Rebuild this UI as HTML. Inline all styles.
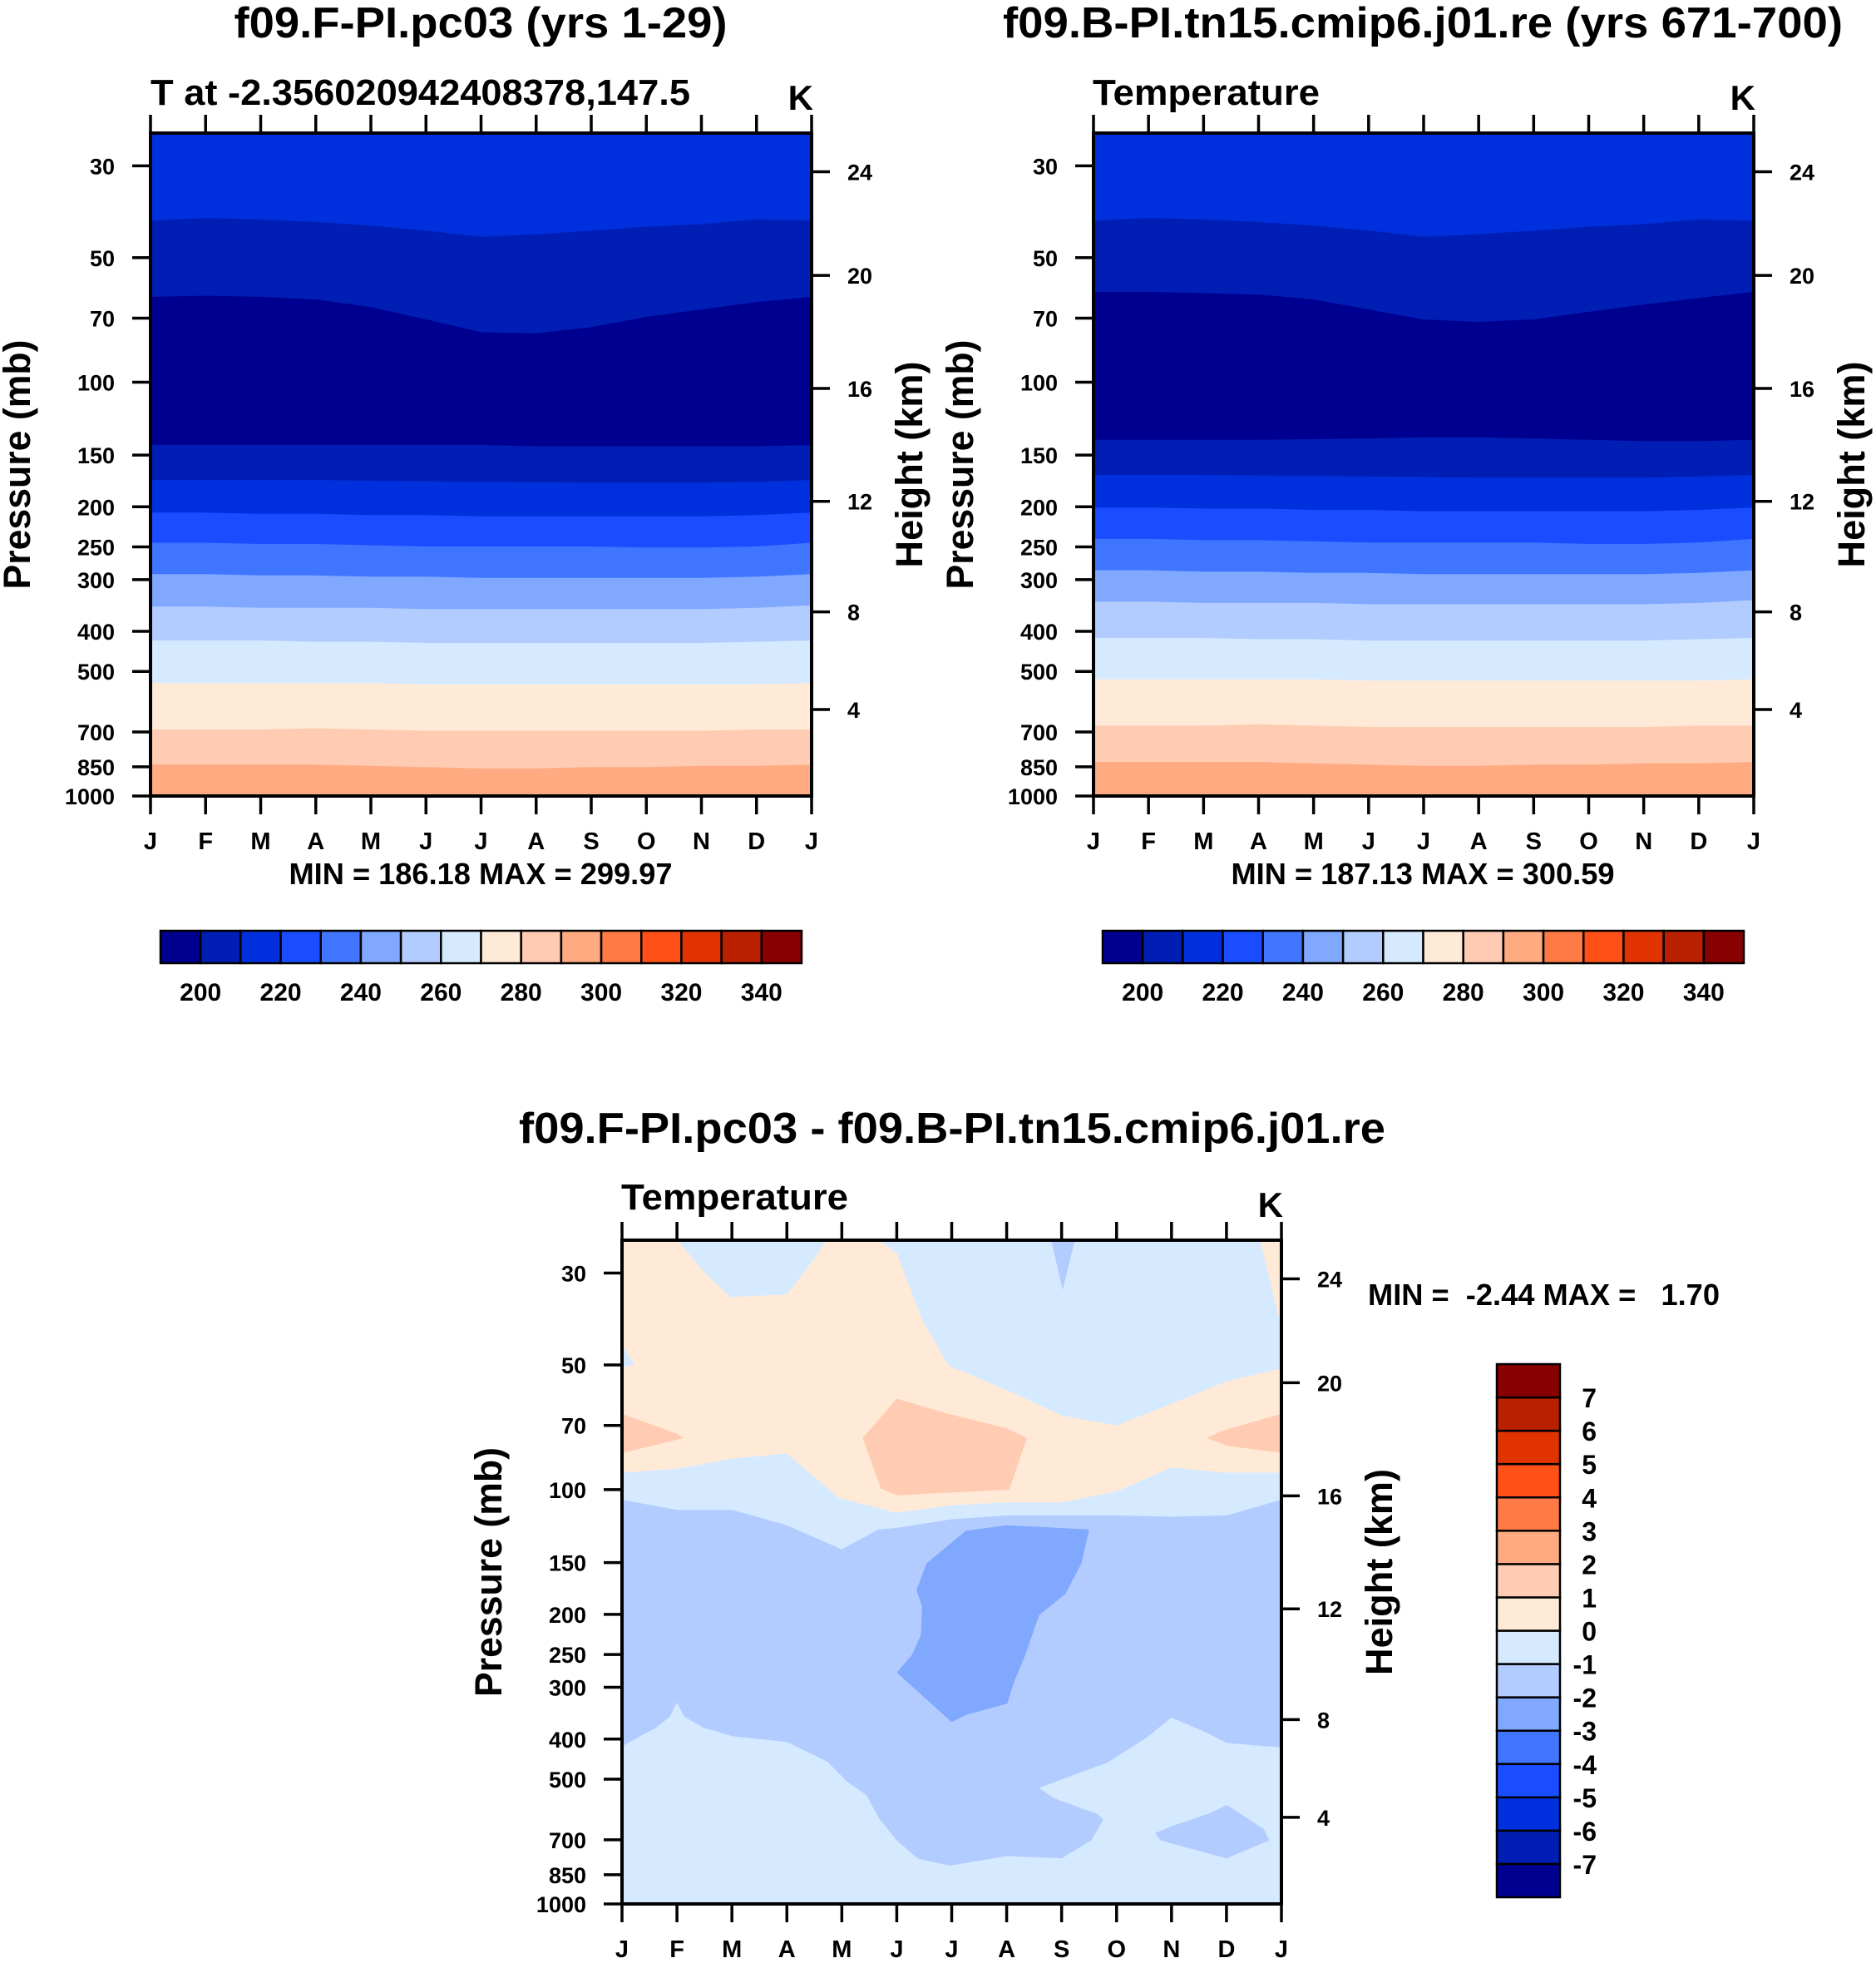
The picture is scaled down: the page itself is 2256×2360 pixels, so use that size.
<!DOCTYPE html>
<html><head><meta charset="utf-8">
<style>
html,body{margin:0;padding:0;background:#fff;}
svg{display:block;}
text{font-family:"Liberation Sans",sans-serif;font-weight:bold;fill:#000;white-space:pre;}
</style></head>
<body>
<svg id="chart" xmlns="http://www.w3.org/2000/svg" width="2256" height="2360" viewBox="0 0 2256 2360"></svg>
<script>
// ---------- DATA ----------
const months = ["J","F","M","A","M","J","J","A","S","O","N","D","J"];
const pressureTicks = [30,50,70,100,150,200,250,300,400,500,700,850,1000];
const heightTickLabels = [4,8,12,16,20,24];
const heightTickPressures = [618,359,194,103.5,55.2,31];
const cbLabelsTemp = [200,220,240,260,280,300,320,340];
const cbLabelsDiff = [7,6,5,4,3,2,1,0,-1,-2,-3,-4,-5,-6,-7];
const palette = ["#000090","#001eb4","#0030dd","#1a4dff","#4075ff","#80a8ff","#b3ccff","#d6eaff","#ffead8","#ffccb3","#ffaa80","#ff7a45","#ff5018","#e03300","#b82000","#880000"];
const bandColors = [2,1,0,1,2,3,4,5,6,7,8,9,10];
const p1B1 = [40.7,40.1,40.4,41.0,41.8,43.0,44.5,43.9,43.0,42.1,41.5,40.4,40.7];
const p1B2 = [62.2,61.8,62.2,63.1,65.8,70.5,75.7,76.2,73.6,69.5,66.7,64.0,62.2];
const p1B3 = [141.8,141.8,141.8,141.8,141.8,141.8,141.8,142.8,142.8,142.8,142.8,142.8,141.8];
const p1B4 = [172.3,172.3,172.3,172.3,173,173.5,174,174.5,174.7,174.7,174.7,174,172.3];
const p1B5 = [206.6,206.6,208,208,209.5,209.5,211,211,211,211,211,209.5,206.6];
const p1B6 = [244.3,244.3,246,246,247.7,249.4,249.4,249.4,249.4,251,251,249.4,244.3];
const p1B7 = [290.9,290.9,293,293,295,295,297.1,297.1,297.1,297.1,297.1,295,290.9];
const p1B8 = [348.6,348.6,351,351,351,353.5,353.5,353.5,353.5,353.5,353.5,351,346];
const p1B9 = [420.9,420.9,420.9,424,424,426.8,426.8,426.8,426.8,426.8,426.8,424,420.9];
const p1B10 = [533.7,533.7,533.7,533.7,533.7,537.4,537.4,537.4,537.4,537.4,537.4,537.4,533.7];
const p1B11 = [690.5,690.5,690.5,685.7,690.5,695.3,695.3,695.3,695.3,695.3,695.3,690.5,690.5];
const p1B12 = [839.9,839.9,839.9,839.9,845.7,851.6,857.8,857.8,851.6,851.6,845.7,845.7,839.9];
const p2B1 = [40.7,40.1,40.4,41.0,41.8,43.0,44.5,43.9,43.0,42.1,41.5,40.4,40.7];
const p2B2 = [60.5,60.5,60.9,61.4,63.1,66.7,70.5,71.5,70.5,67.6,64.9,62.6,60.5];
const p2B3 = [137.8,137.8,137.8,137.8,137.3,136.8,135.9,135.9,136.8,137.8,138.8,138.8,137.8];
const p2B4 = [167.6,167.6,167.6,168,168.5,169,169.5,170,170,170,170,169,167.6];
const p2B5 = [200.9,200.9,202,202,203.5,203.5,205,205,205,205,205,203.5,200.9];
const p2B6 = [239.2,239.2,240.8,240.8,242.5,244,244,244,244,246,246,244,239.2];
const p2B7 = [284.8,284.8,286.8,286.8,289,289,291,291,291,291,291,289,284.8];
const p2B8 = [339,339,341.5,341.5,341.5,344,344,344,344,344,344,341.5,336];
const p2B9 = [415,415,415,418,418,421,421,421,421,421,421,418,415];
const p2B10 = [522.5,522.5,522.5,522.5,522.5,526,526,526,526,526,526,526,522.5];
const p2B11 = [676,676,676,671,676,681,681,681,681,681,681,676,676];
const p2B12 = [827.6,827.6,827.6,827.6,833.5,839.5,845.5,845.5,839.5,839.5,833.5,833.5,827.6];
const diffPos01 = [[0,25],[1,25],[1.49,29.8],[1.97,34.3],[3,33.8],[3.44,28.4],[3.73,25],[4.67,25],[5,26.9],[5.46,38.9],[5.94,50.2],[7,57.5],[8,66.2],[9,70],[10,62.1],[11,54.8],[12,51],[12,91],[11,91],[10,88.5],[9,101],[8,107.4],[7,107.4],[5.97,109.2],[5,113.7],[3.95,104.8],[3,81.8],[2,84.2],[1,89.1],[0,91]];
const diffPos01b = [[11.61,25],[12,25],[12,40.7]];
const diffNegLeft = [[0,44.8],[0.23,49.9],[0,50.7]];
const diffNotchS = [[7.81,25],[8.24,25],[8.02,33]];
const diffPos12a = [[5,60.3],[4.38,75],[4.71,99.3],[5,103.2],[7.05,100],[7.37,75],[7,71.1],[5.94,65.6]];
const diffPos12b = [[0,65.6],[1,73.3],[1.13,75],[0,81.6]];
const diffPos12c = [[12,65.6],[11,71.6],[10.63,75],[11.03,78.5],[12,81.6]];
const diffNeg12 = [[0,105.8],[1,111.9],[2,111.9],[3,121.9],[4,139.3],[4.67,124.8],[5,123.7],[5.97,118],[7,115.4],[9,115.4],[10,116.2],[11,115.4],[12,105.8],[12,419.2],[11,408.8],[10.63,385.3],[10,355],[9.51,399.9],[8.83,456],[7.59,524.8],[7.85,555.2],[8.65,606.3],[8.76,625.5],[8.54,702.4],[8,776.2],[7,766.6],[5.97,808.4],[5.39,778.6],[5,702.4],[4.67,619.6],[4.45,546.9],[4.09,505.6],[3.73,453.2],[3,406.3],[2,393.6],[1.49,375.7],[1.13,353],[1,326.3],[0.87,353],[0.62,375.7],[0.33,393.6],[0,416.6]];
const diffNeg12b = [[9.7,674.5],[9.8,702.4],[11,776.2],[11.78,702.4],[11.68,659.7],[11,576.6],[10.74,600.6],[10,649.4]];
const diffNeg23 = [[6.26,125.6],[7,121.9],[8.5,124.8],[8.36,150.7],[8.07,178.4],[7.59,200.9],[7.34,250.1],[7.13,292.3],[7.01,328.3],[6.26,349.6],[6,364],[5,276.4],[5.28,250.1],[5.44,224.2],[5.46,191.7],[5.36,174.6],[5.54,150.7]];

// ---------- DRAWING ----------
const NS = "http://www.w3.org/2000/svg";
const svg = document.getElementById("chart");
function mk(tag, attrs, parent){
  const e = document.createElementNS(NS, tag);
  for (const k in attrs) e.setAttribute(k, attrs[k]);
  (parent || svg).appendChild(e);
  return e;
}
function txt(s, x, y, size, anchor, parent, len){
  const t = mk("text", {x:x, y:y, "font-size":size, "text-anchor":anchor||"start"}, parent);
  if (len) { t.setAttribute("textLength", len); t.setAttribute("lengthAdjust","spacingAndGlyphs"); }
  t.textContent = s;
  return t;
}
const PTOP = 25, PBOT = 1000;
function makeAxes(P){
  P.x = m => P.left + m * (P.right - P.left) / 12;
  P.y = p => P.top + (Math.log10(p) - Math.log10(PTOP)) / (Math.log10(PBOT) - Math.log10(PTOP)) * (P.bottom - P.top);
}
function polyStr(P, pts){ return pts.map(q => P.x(q[0]).toFixed(1)+","+P.y(q[1]).toFixed(1)).join(" "); }

function drawFrame(P, g){
  const tk = mk("g", {stroke:"#000","stroke-width":3.5}, g);
  
  
  months.forEach((m,i)=>{
    const x = P.x(i);
    mk("line",{x1:x,y1:P.top,x2:x,y2:P.top-22},tk);
    mk("line",{x1:x,y1:P.bottom,x2:x,y2:P.bottom+22},tk);
    const t = txt(m, x, P.bottom+64, 29, "middle", g);
    
    
  });
  pressureTicks.forEach(p=>{
    const y = P.y(p);
    mk("line",{x1:P.left,y1:y,x2:P.left-22,y2:y},tk);
    const t = txt(String(p), P.left-43, y+10, 27, "end", g);
    
    
  });
  heightTickPressures.forEach((p,i)=>{
    const y = P.y(p);
    mk("line",{x1:P.right,y1:y,x2:P.right+22,y2:y},tk);
    const t = txt(String(heightTickLabels[i]), P.right+43, y+10, 27, "start", g);
    
    
  });
  const fr = mk("rect",{x:P.left,y:P.top,width:P.right-P.left,height:P.bottom-P.top,fill:"none",stroke:"#000","stroke-width":4},g);
  
  
  const cy = (P.top+P.bottom)/2;
  const pl = txt("Pressure (mb)", 0, 0, 45, "middle", g, 300);
  pl.setAttribute("transform",`translate(${P.left-145},${cy}) rotate(-90)`);
  
  
  const hl = txt("Height (km)", 0, 0, 45, "middle", g, 248);
  hl.setAttribute("transform",`translate(${P.right+133},${cy}) rotate(-90)`);
  
  
  const k = txt("K", P.right+2, P.top-28, 42, "end", g);
  
  
}

function drawBandPanel(P, bounds, name){
  makeAxes(P);
  const g = mk("g",{});
  
  
  const bg = mk("rect",{x:P.left,y:P.top,width:P.right-P.left,height:P.bottom-P.top,fill:palette[bandColors[0]]},g);
  
  
  bounds.forEach((b,k)=>{
    const pts = b.map((p,i)=>[i,p]);
    pts.push([12,PBOT]); pts.push([0,PBOT]);
    const poly = mk("polygon",{points:polyStr(P,pts),fill:palette[bandColors[k+1]]},g);
    
    
  });
  drawFrame(P,g);
  return g;
}

function drawHColorbar(x0, x1, y0, y1){
  const g = mk("g",{});
  
  
  const w = (x1-x0)/palette.length;
  palette.forEach((c,i)=>{
    const r = mk("rect",{x:x0+i*w,y:y0,width:w,height:y1-y0,fill:c,stroke:"#000","stroke-width":2.5},g);
    
    
  });
  cbLabelsTemp.forEach((v,i)=>{
    const t = txt(String(v), x0+(2*i+1)*w, y1+45, 30, "middle", g);
    
    
  });
}

const P1 = {left:181,right:976,top:160,bottom:957};
drawBandPanel(P1,[p1B1,p1B2,p1B3,p1B4,p1B5,p1B6,p1B7,p1B8,p1B9,p1B10,p1B11,p1B12],"panel-control");
let t;
t = txt("f09.F-PI.pc03 (yrs 1-29)", 578, 45, 52, "middle", null, 593);
 
t = txt("T at -2.356020942408378,147.5", 181, 126, 44, "start", null, 649);
 
t = txt("MIN = 186.18 MAX = 299.97", 578, 1063, 36, "middle", null, 461);
 
drawHColorbar(193, 964, 1119, 1158);

const P2 = {left:1315,right:2109,top:160,bottom:957};
drawBandPanel(P2,[p2B1,p2B2,p2B3,p2B4,p2B5,p2B6,p2B7,p2B8,p2B9,p2B10,p2B11,p2B12],"panel-test");
t = txt("f09.B-PI.tn15.cmip6.j01.re (yrs 671-700)", 1711, 45, 52, "middle", null, 1010);
 
t = txt("Temperature", 1314, 126, 44, "start", null, 273);
 
t = txt("MIN = 187.13 MAX = 300.59", 1711, 1063, 36, "middle", null, 461);
 
drawHColorbar(1326, 2097, 1119, 1158);

const P3 = {left:748,right:1541,top:1491,bottom:2289};
makeAxes(P3);
const g3 = mk("g",{});


const bg3 = mk("rect",{x:P3.left,y:P3.top,width:P3.right-P3.left,height:P3.bottom-P3.top,fill:palette[7]},g3);


[[diffPos01,8],[diffPos01b,8],[diffNegLeft,7],[diffNotchS,6],[diffPos12a,9],[diffPos12b,9],[diffPos12c,9],[diffNeg12,6],[diffNeg12b,6],[diffNeg23,5]].forEach(r=>{
  const poly = mk("polygon",{points:polyStr(P3,r[0]),fill:palette[r[1]]},g3);
  
  
});
drawFrame(P3,g3);
t = txt("f09.F-PI.pc03 - f09.B-PI.tn15.cmip6.j01.re", 1145, 1374, 52, "middle", null, 1042);
 
t = txt("Temperature", 747, 1454, 44, "start", null, 273);
 
t = txt("MIN =  -2.44 MAX =   1.70", 1645, 1569, 36, "start", null, 423);
 
const vcb = mk("g",{});


const vx0 = 1800, vx1 = 1876, vy0 = 1640, vy1 = 2281;
const vh = (vy1-vy0)/palette.length;
palette.forEach((c,i)=>{
  const r = mk("rect",{x:vx0,y:vy1-(i+1)*vh,width:vx1-vx0,height:vh,fill:c,stroke:"#000","stroke-width":2.5},vcb);
  
  
});
cbLabelsDiff.forEach((v,i)=>{
  const tt = txt(String(v), 1920, vy0+(i+1)*vh+12, 32, "end", vcb);
  
  
});
</script>
</body></html>
